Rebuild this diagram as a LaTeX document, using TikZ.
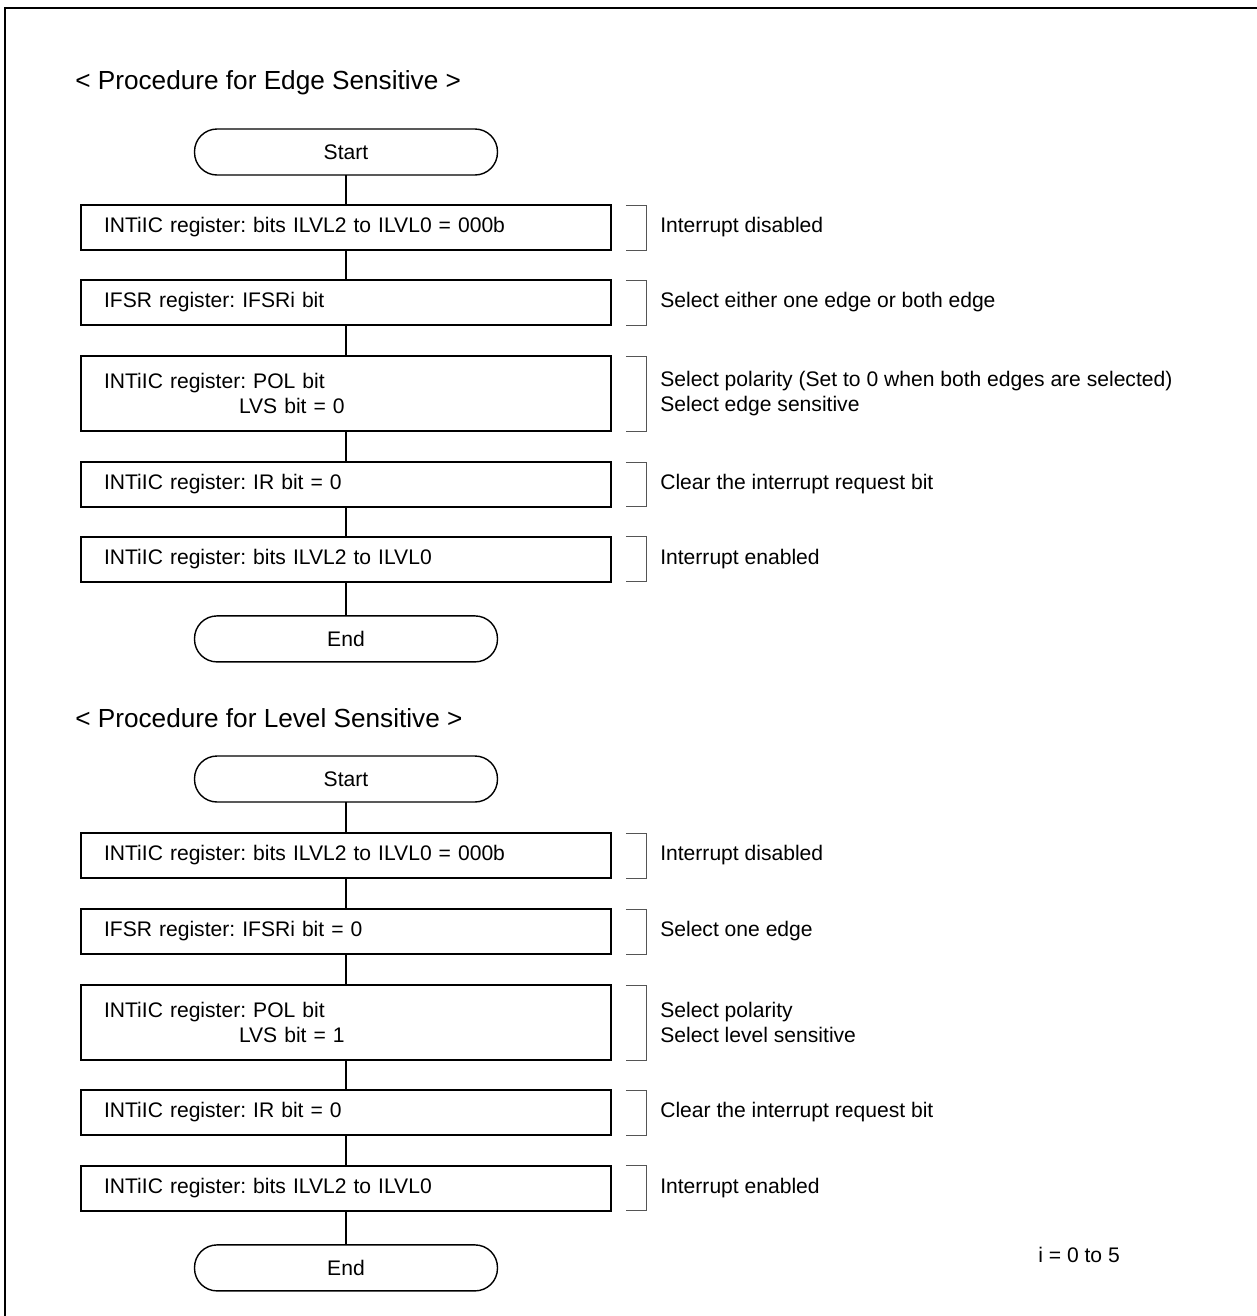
\documentclass[tikz,border=0pt]{standalone}
\usepackage{fontspec}
\setmainfont{Liberation Sans}
\usetikzlibrary{positioning}
\definecolor{BrkGray}{HTML}{555555}
\frenchspacing

\begin{document}
\begin{tikzpicture}[
  x=0.02cm, y=-0.02cm,
  node distance=6mm,
  font=\fontsize{12}{14.2}\selectfont,
  title/.style={anchor=west,inner sep=0pt,font=\fontsize{14.9}{17}\selectfont},
  term/.style={draw,line width=0.8pt,outer sep=0pt,rounded corners=4.5mm,minimum width=60.6mm,minimum height=9.2mm,inner sep=0pt},
  box/.style={draw,line width=0.8pt,outer sep=0pt,minimum height=9mm,text width=96.8mm,inner xsep=4.6mm,inner ysep=0pt,align=left},
  tallbox/.style={box,minimum height=15mm},
  note/.style={inner sep=0pt,align=left,anchor=west},
  brk/.style={draw=BrkGray,line width=0.5pt},
  line/.style={draw,line width=0.8pt}
]
\useasboundingbox (0,0) rectangle (1257,1316);
\draw[line width=1.1pt] (5,1330) -- (5,8) -- (1270,8);

% edge sensitive
\node[title] (t1) at (75,83) {< Procedure for Edge Sensitive >};
\node[term] (s1) at (346,152) {Start};
\node[box,below=of s1] (a1) {INTiIC register: bits ILVL2 to ILVL0 = 000b};
\node[box,below=of a1] (b1) {IFSR register: IFSRi bit};
\node[tallbox,below=6.2mm of b1] (c1) {INTiIC register: POL bit\\\hspace*{27mm}LVS bit = 0};
\node[box,below=6.2mm of c1] (d1) {INTiIC register: IR bit = 0};
\node[box,below=of d1] (e1) {INTiIC register: bits ILVL2 to ILVL0};
\node[term,below=6.8mm of e1] (z1) {End};
\draw[line] (s1) -- (a1);
\draw[line] (a1) -- (b1);
\draw[line] (b1) -- (c1);
\draw[line] (c1) -- (d1);
\draw[line] (d1) -- (e1);
\draw[line] (e1) -- (z1);

\node[note,right=9.8mm of a1] (na1) {Interrupt disabled};
\node[note,right=9.8mm of b1] (nb1) {Select either one edge or both edge};
\node[note,right=9.8mm of c1] (nc1) {Select polarity (Set to 0 when both edges are selected)\\Select edge sensitive};
\node[note,right=9.8mm of d1] (nd1) {Clear the interrupt request bit};
\node[note,right=9.8mm of e1] (ne1) {Interrupt enabled};
\draw[brk] ([xshift=3mm]a1.north east) -- ([xshift=7mm]a1.north east) -- ([xshift=7mm]a1.south east) -- ([xshift=3mm]a1.south east);
\draw[brk] ([xshift=3mm]b1.north east) -- ([xshift=7mm]b1.north east) -- ([xshift=7mm]b1.south east) -- ([xshift=3mm]b1.south east);
\draw[brk] ([xshift=3mm]c1.north east) -- ([xshift=7mm]c1.north east) -- ([xshift=7mm]c1.south east) -- ([xshift=3mm]c1.south east);
\draw[brk] ([xshift=3mm]d1.north east) -- ([xshift=7mm]d1.north east) -- ([xshift=7mm]d1.south east) -- ([xshift=3mm]d1.south east);
\draw[brk] ([xshift=3mm]e1.north east) -- ([xshift=7mm]e1.north east) -- ([xshift=7mm]e1.south east) -- ([xshift=3mm]e1.south east);

% level sensitive
\node[title] (t2) at (75,718) {< Procedure for Level Sensitive >};
\node[term] (s2) at (346,779) {Start};
\node[box,below=6.2mm of s2] (a2) {INTiIC register: bits ILVL2 to ILVL0 = 000b};
\node[box,below=6.2mm of a2] (b2) {IFSR register: IFSRi bit = 0};
\node[tallbox,below=6.2mm of b2] (c2) {INTiIC register: POL bit\\\hspace*{27mm}LVS bit = 1};
\node[box,below=6mm of c2] (d2) {INTiIC register: IR bit = 0};
\node[box,below=6.2mm of d2] (e2) {INTiIC register: bits ILVL2 to ILVL0};
\node[term,below=6.8mm of e2] (z2) {End};
\draw[line] (s2) -- (a2);
\draw[line] (a2) -- (b2);
\draw[line] (b2) -- (c2);
\draw[line] (c2) -- (d2);
\draw[line] (d2) -- (e2);
\draw[line] (e2) -- (z2);

\node[note,right=9.8mm of a2] (na2) {Interrupt disabled};
\node[note,right=9.8mm of b2] (nb2) {Select one edge};
\node[note,right=9.8mm of c2] (nc2) {Select polarity\\Select level sensitive};
\node[note,right=9.8mm of d2] (nd2) {Clear the interrupt request bit};
\node[note,right=9.8mm of e2] (ne2) {Interrupt enabled};
\draw[brk] ([xshift=3mm]a2.north east) -- ([xshift=7mm]a2.north east) -- ([xshift=7mm]a2.south east) -- ([xshift=3mm]a2.south east);
\draw[brk] ([xshift=3mm]b2.north east) -- ([xshift=7mm]b2.north east) -- ([xshift=7mm]b2.south east) -- ([xshift=3mm]b2.south east);
\draw[brk] ([xshift=3mm]c2.north east) -- ([xshift=7mm]c2.north east) -- ([xshift=7mm]c2.south east) -- ([xshift=3mm]c2.south east);
\draw[brk] ([xshift=3mm]d2.north east) -- ([xshift=7mm]d2.north east) -- ([xshift=7mm]d2.south east) -- ([xshift=3mm]d2.south east);
\draw[brk] ([xshift=3mm]e2.north east) -- ([xshift=7mm]e2.north east) -- ([xshift=7mm]e2.south east) -- ([xshift=3mm]e2.south east);

\node[note] (idx) at (1038,1255) {i = 0 to 5};
\end{tikzpicture}
\end{document}
